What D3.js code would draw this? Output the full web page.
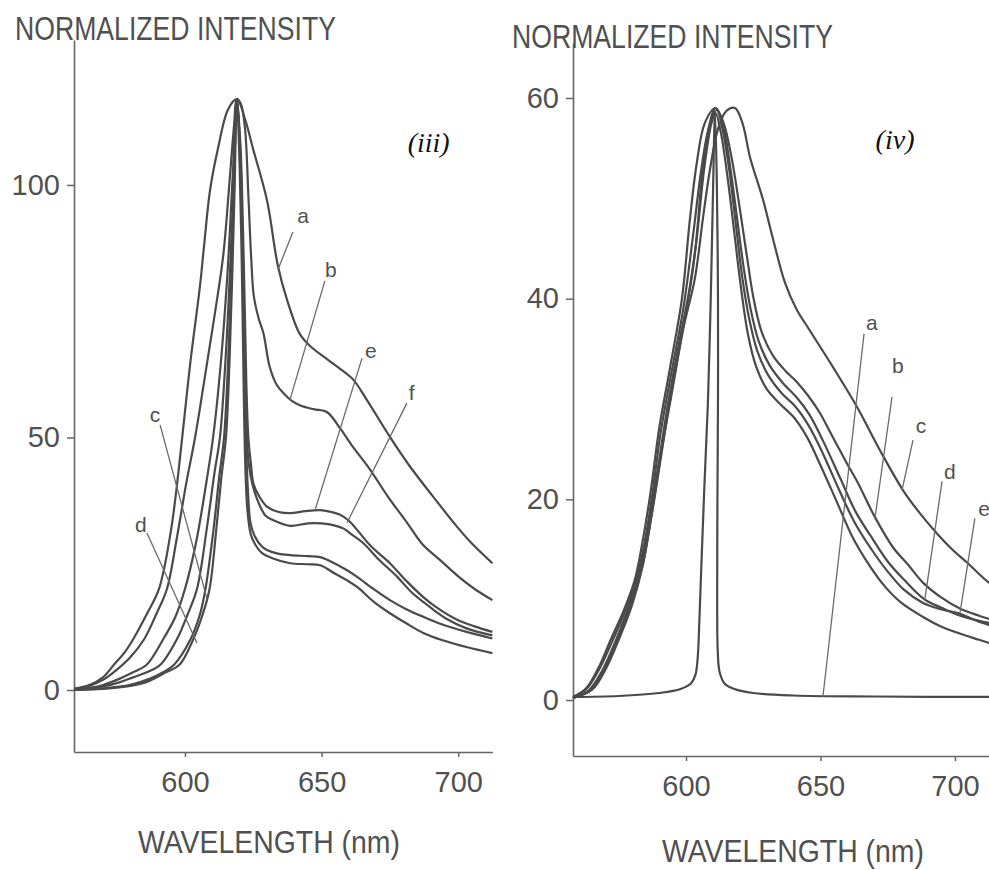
<!DOCTYPE html>
<html>
<head>
<meta charset="utf-8">
<script src="https://cdn.jsdelivr.net/npm/d3@7"></script>
<style>
  body { margin: 0; background: #fff; }
  svg { display: block; }
  text { font-family: "Liberation Sans", Arial, sans-serif; fill: #505050; }
</style>
</head>
<body>
<svg id="chart" width="989" height="870"></svg>
<script>
// spectra are [wavelength (nm), normalized intensity]

// panel (iii)
const iiiA = [[559.4,0.3],[565,1],[570,2.5],[574,5],[578,7.5],[581,10],[586,15],[590.5,20],[595,32],[599,50],[602,65],[605.5,80],[607,88],[609.2,99],[612,107],[615.8,115],[619,117],[622,113],[625,107],[630,97],[634,84],[637.5,77],[642,70.5],[646,68],[652,65.5],[657,63.5],[661.5,61.5],[666.6,57.4],[675,50.1],[682,44.5],[690.8,38.3],[699.6,32.3],[705,29],[712.5,25.1]];
const iiiB = [[559.4,0.2],[565,0.8],[570,2],[575,4],[580,6.5],[585,10],[589.5,15],[593.4,20],[597,30],[600.5,41],[603.7,50],[607,61],[610.5,73],[614,86],[616.5,102],[618,112],[619,117],[620.5,116],[622,111],[623.2,98],[624.2,86],[625.2,78],[627,73.5],[628.7,70.7],[631,64],[633.5,60.5],[636,58.8],[639,57.3],[642,56.4],[647,55.6],[652,55],[656.8,51.8],[661,48.5],[667.8,43.6],[674,38.5],[681.3,33.1],[687,28.8],[693.4,25.7],[700,22.5],[706,20],[712.5,17.8]];
const iiiC = [[559.4,0.1],[565,0.4],[570,1],[576,2.2],[581,3.5],[586,5],[592,10],[596.5,14.5],[600,20],[604,29],[607.5,40],[610.3,50],[613,64],[615.5,82],[617.5,102],[619,117],[620.2,106],[621,88],[621.6,68],[622.2,52],[623,40],[624,33],[625.5,30.5],[628,28.5],[630,27.7],[634,27],[638.5,26.7],[645,26.5],[649.5,26.3],[655,25],[659,23.8],[663,22.4],[669,20],[675,17.8],[681,16],[687.2,14.5],[694,13],[703,11.5],[712.5,10.2]];
const iiiD = [[559.4,0.1],[565,0.3],[570,0.7],[576,1.5],[581,2.5],[586,3.5],[591,5],[597,10],[601,15],[604.4,20],[608,32],[610.8,43],[612.8,50],[614.8,65],[616.5,83],[618,103],[619,117],[620,104],[620.8,84],[621.4,63],[622,46],[622.8,36],[624,31],[625.5,29],[628,27.2],[632,26.1],[638.5,25.1],[645,24.9],[649.5,24.7],[655,23],[659,21.8],[663,20.4],[669,17.5],[675,15.2],[681,13.2],[687.2,11.3],[694,9.9],[703,8.5],[712.5,7.3]];
const iiiE = [[559.4,0],[570,0.3],[580,1],[587,2.2],[592,3.5],[596,5],[602,10],[605.5,15],[607.5,20],[610.5,32],[612.5,42],[614.3,50],[615.8,65],[617,82],[618,100],[619,117],[620.3,108],[621.2,92],[621.9,75],[622.5,60],[623.2,50],[624.2,44.5],[625,41],[627,38.5],[630,36.3],[634,35.3],[638.5,35],[644,35.4],[649.5,35.6],[653,35.3],[656.8,34.7],[660,33.5],[663,31.7],[668,28.5],[675,25.1],[681,21.6],[687.2,18.4],[693,16],[699.6,13.9],[706,12.6],[712.5,11.5]];
const iiiF = [[559.4,0],[570,0.2],[580,0.8],[587,1.8],[593,3.5],[598,5],[603,10],[606.5,15],[609,20],[611.5,32],[613.3,42],[615,50],[616.3,65],[617.3,82],[618.2,100],[619,117],[620.2,107],[621,90],[621.7,72],[622.3,56],[623.3,45],[624.8,40.5],[627,37],[629.5,34.5],[632,33.7],[638.5,32.5],[645,33],[650,33],[653,32.8],[657.9,32],[661,30.8],[665.2,29.1],[671,25.8],[677.7,22.4],[683,19.3],[689.7,16.4],[696,14],[703,12.2],[712.5,10.8]];

// panel (iv)
const ivLaser = [[558,0.3],[575,0.4],[590,0.7],[598,1.1],[602,1.7],[603.5,2.5],[604.3,4],[605,8],[605.8,14],[606.8,21],[608.2,30],[609.2,40],[610,50],[610.8,58.5],[611.5,51],[611.9,40],[611.9,30],[611.7,20],[611.6,10],[611.8,5],[612.5,2.8],[614.5,1.6],[618,1.1],[625,0.7],[640,0.45],[670,0.35],[716,0.3]];
const ivB = [[558,0.3],[563,1.2],[568,3.5],[572,6],[577,9],[581,12],[584,16],[587,21],[590,27],[594,33],[598.5,40],[601.5,48],[604,53.5],[607,57.5],[611,59],[614,57.5],[617,54],[620,49],[622.5,44.5],[625,40.2],[628,36.8],[632.4,34.3],[637,32.8],[641.2,31.7],[645.5,30.3],[649.8,28.6],[653,27],[656,25.5],[660,23.5],[663.6,21.8],[670.3,18.2],[677,15.2],[682.5,13.5],[688.1,11.7],[695,10.2],[702,9.1],[709,8.4],[716,7.8]];
const ivC = [[558,0.2],[565,1],[570,3],[575,6],[580,9.5],[584,13.5],[587.5,19],[591,25],[595,31],[599,37],[603.3,42],[606.3,48],[609,53],[612,57],[615,58.7],[618.2,59],[621,57.5],[623.8,54.1],[628.6,49.9],[632.4,45.9],[636.8,41.6],[641,39],[646.1,36.8],[654.6,33.2],[663.6,29.2],[672.1,24.9],[680.7,20.9],[687,18.6],[693.3,16.6],[699,15],[704.5,13.7],[712.6,11.7],[716,11.2]];
const ivD = [[558,0.3],[563,1.1],[568,3.2],[572,5.5],[577,8.6],[581,11.5],[584.5,15.5],[587.5,20.5],[590.5,26.5],[594.5,32.5],[599,39],[602.5,46],[605.5,52.5],[608,56.5],[611,59],[614,57],[616.5,53],[619,48],[621.5,43],[624,39],[627,35.8],[631,33.4],[636,31.6],[641,30.2],[646,28.4],[651,25.8],[657.2,22.2],[663,18.8],[669.5,16],[675,13.8],[681,12],[688.8,10],[695,9.2],[702,8.4],[709,7.9],[716,7.5]];
const ivE = [[558,0.2],[564,1],[569,3],[574,6],[579,9.5],[583,13],[586.5,18],[589.5,23],[593,29],[597,35],[601,40.5],[603.5,45],[606.3,53],[609,57.5],[611.5,58.8],[613.5,57],[616,53],[618.5,47.5],[621,42],[623.5,38],[626.5,34.8],[630.5,32.4],[635.5,30.6],[640.5,29.3],[645.5,27.4],[650.5,24.8],[656.5,21.2],[662.5,17.8],[669,15],[675,12.8],[681,11],[688,9.7],[694,9.1],[701.9,8.6],[708,7.9],[716,7.2]];
const ivF = [[558,0.2],[564.5,1],[569.5,3],[574.5,6],[579.5,9.5],[583.5,13],[587,18],[590,23],[593.5,29],[597.5,35],[601.5,41],[604,46],[606.8,53],[609.5,57.5],[611,58.5],[613,56.5],[615.5,52],[618,46.5],[620.5,41],[623,36.5],[626,33.3],[630,31],[635,29.5],[640,28.2],[645,26.2],[650,23.4],[656,19.8],[662,16.2],[668,13.5],[674,11.3],[680,9.7],[688,8.3],[695,7.3],[702,6.6],[709,6],[716,5.4]];

// ticks
const ticksX = [600, 650, 700];
const iiiTicksY = [0, 50, 100];
const ivTicksY = [0, 20, 40, 60];

// curve letters: [letter, text nm, text I, leader from nm, from I, to nm, to I]
const iiiNotes = [
  ["a", 643.2, 93.9, 639.5, 90.7, 634, 83.2],
  ["b", 653.4, 83.2, 651.2, 81, 638.4, 57.4],
  ["c", 589, 54.5, 590.9, 52.5, 608, 18.2],
  ["d", 583.9, 32.7, 586.1, 31.1, 604.4, 9.3],
  ["e", 668, 67.3, 664.8, 65.7, 647.6, 35.6],
  ["f", 683, 59, 681.2, 56.8, 659.3, 33.1]
];
const ivNotes = [
  ["a", 669.1, 37.6, 666.2, 36.5, 650.9, 0.3],
  ["b", 678.8, 33.3, 676.6, 30.2, 670.3, 18.2],
  ["c", 687.4, 27.4, 684.4, 25.9, 680.3, 20.9],
  ["d", 698.1, 22.8, 695.2, 21.8, 688.8, 10],
  ["e", 710.8, 19.1, 707.4, 18.1, 701.9, 8.7]
];

const svg = d3.select("#chart");

function panel(p) {
    const x = d3.scaleLinear().domain(p.xDomain).range(p.xRange);
    const y = d3.scaleLinear().domain(p.yDomain).range(p.yRange);
    const g = svg.append("g");

    const yAxis = g.append("g")
        .attr("transform", `translate(${p.xRange[0]},0)`)
        .call(d3.axisLeft(y).tickValues(p.ticksY).tickSize(7).tickSizeOuter(0).tickPadding(7));
    const xAxis = g.append("g")
        .attr("transform", `translate(0,${p.yRange[0]})`)
        .call(d3.axisBottom(x).tickValues(ticksX).tickSize(5).tickSizeOuter(0).tickPadding(14));
    [xAxis, yAxis].forEach(a => {
        a.select(".domain").attr("stroke", "#666").attr("stroke-width", 1.6);
        a.selectAll(".tick line").attr("stroke", "#666").attr("stroke-width", 1.5);
        a.selectAll(".tick text").attr("font-size", 29).attr("fill", "#505050")
            .style("font-family", "'Liberation Sans', Arial, sans-serif");
    });

    const line = d3.line()
        .x(d => x(d[0]))
        .y(d => y(d[1]))
        .curve(d3.curveCatmullRom.alpha(0.5));

    g.selectAll("path.spec")
        .data(p.series)
        .join("path")
        .attr("class", "spec")
        .attr("fill", "none")
        .attr("stroke", "#4a4a4a")
        .attr("stroke-width", 2.2)
        .attr("d", line);

    const notes = g.selectAll("g.note").data(p.notes).join("g").attr("class", "note");
    notes.append("line")
        .attr("x1", d => x(d[3])).attr("y1", d => y(d[4]))
        .attr("x2", d => x(d[5])).attr("y2", d => y(d[6]))
        .attr("stroke", "#6a6a6a").attr("stroke-width", 1.3);
    notes.append("text")
        .attr("x", d => x(d[1])).attr("y", d => y(d[2]))
        .attr("text-anchor", "middle").attr("dominant-baseline", "central")
        .attr("font-size", 21)
        .text(d => d[0]);

    g.append("text")
        .attr("x", p.titleX).attr("y", p.titleY)
        .attr("font-size", 33)
        .attr("textLength", 321).attr("lengthAdjust", "spacingAndGlyphs")
        .text("NORMALIZED INTENSITY");
    g.append("text")
        .attr("x", p.xTitleX).attr("y", p.xTitleY)
        .attr("font-size", 31)
        .attr("textLength", 262).attr("lengthAdjust", "spacingAndGlyphs")
        .text("WAVELENGTH (nm)");
    g.append("text")
        .attr("x", x(p.tag[1])).attr("y", y(p.tag[2]))
        .attr("font-size", 28).attr("font-style", "italic")
        .style("font-family", "'Liberation Serif', 'Times New Roman', serif")
        .style("fill", "#111")
        .text(p.tag[0]);
}

panel({
    xDomain: [559.4, 712.5], xRange: [74, 492.4],
    yDomain: [-12.28, 128.7], yRange: [752, 40],
    ticksY: iiiTicksY,
    series: [iiiA, iiiB, iiiC, iiiD, iiiE, iiiF],
    notes: iiiNotes,
    titleX: 15, titleY: 40,
    xTitleX: 138, xTitleY: 853,
    tag: ["(iii)", 681.5, 106.5]
});

panel({
    xDomain: [558, 716], xRange: [573, 998],
    yDomain: [-5.58, 65.48], yRange: [756, 43],
    ticksY: ivTicksY,
    series: [ivLaser, ivB, ivC, ivD, ivE, ivF],
    notes: ivNotes,
    titleX: 512, titleY: 48,
    xTitleX: 662, xTitleY: 862,
    tag: ["(iv)", 670.5, 54.9]
});
</script>
</body>
</html>
